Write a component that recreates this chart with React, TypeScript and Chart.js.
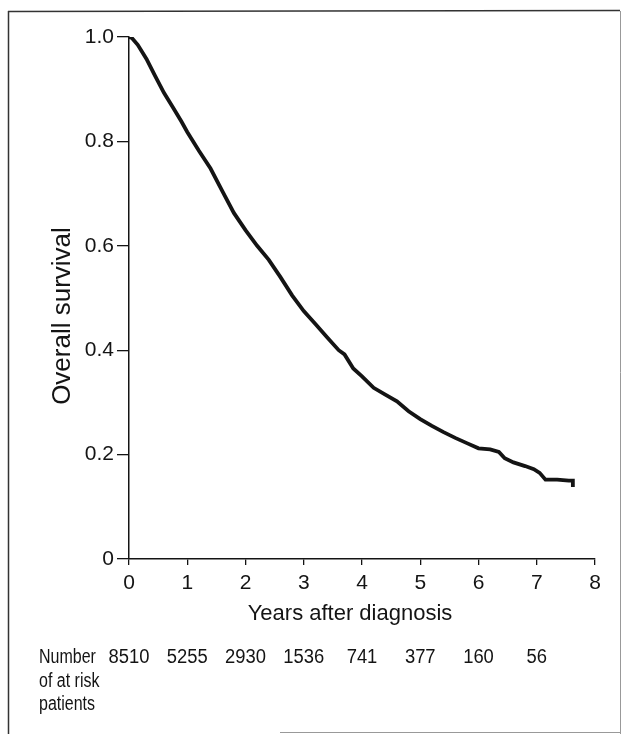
import React, { useEffect, useRef } from "react";
import { Chart, registerables } from "chart.js";

Chart.register(...registerables);

// Kaplan-Meier curve
const timeYears = [
  0, 0.05, 0.15, 0.3, 0.45, 0.6, 0.75, 0.9, 1.0, 1.2, 1.4, 1.6, 1.8, 2.0, 2.2,
  2.4, 2.6, 2.8, 3.0, 3.2, 3.4, 3.6, 3.7, 3.85, 4.0, 4.2, 4.4, 4.6, 4.8, 5.0,
  5.2, 5.4, 5.6, 5.8, 6.0, 6.2, 6.35, 6.45, 6.6, 6.8, 6.95, 7.05, 7.15, 7.35,
  7.55, 7.62, 7.62,
];
const survival = [
  1.0, 0.998, 0.985, 0.958, 0.925, 0.893, 0.866, 0.838, 0.818, 0.782, 0.748,
  0.705, 0.663, 0.63, 0.6, 0.573, 0.54, 0.505, 0.475, 0.45, 0.425, 0.4, 0.392,
  0.365, 0.35, 0.328, 0.315, 0.302, 0.283, 0.268, 0.255, 0.243, 0.232, 0.222,
  0.212, 0.21, 0.205, 0.193, 0.185, 0.178, 0.172, 0.165, 0.152, 0.152, 0.15,
  0.15, 0.138,
];

const xTickValues = [0, 1, 2, 3, 4, 5, 6, 7, 8];
const yTickValues = [0, 0.2, 0.4, 0.6, 0.8, 1.0];
const atRiskYears = [0, 1, 2, 3, 4, 5, 6, 7];
const atRiskCounts = [8510, 5255, 2930, 1536, 741, 377, 160, 56];
const atRiskLabel = ["Number", "of at risk", "patients"];
const xTitle = "Years after diagnosis";
const yTitle = "Overall survival";

const FONT = "'Liberation Sans', Arial, Helvetica, sans-serif";
const INK = "#141414";

const decorPlugin = {
  id: "decor",
  afterDraw(chart: any) {
    const ctx = chart.ctx as CanvasRenderingContext2D;
    const xs = chart.scales.x;
    ctx.save();
    // page frame
    ctx.lineWidth = 1.5;
    ctx.strokeStyle = "#333";
    ctx.beginPath();
    ctx.moveTo(8.5, 11);
    ctx.lineTo(8.5, 734);
    ctx.moveTo(8, 11.5);
    ctx.lineTo(620, 10.5);
    ctx.stroke();
    ctx.strokeStyle = "#999";
    ctx.lineWidth = 1;
    ctx.beginPath();
    ctx.moveTo(620.5, 11);
    ctx.lineTo(620.5, 734);
    ctx.moveTo(280, 732.5);
    ctx.lineTo(621, 732.5);
    ctx.stroke();

    ctx.fillStyle = INK;
    // axis titles
    ctx.font = `22px ${FONT}`;
    ctx.textAlign = "center";
    ctx.textBaseline = "middle";
    ctx.fillText(xTitle, 350, 614);
    ctx.save();
    ctx.translate(63, 316);
    ctx.rotate(-Math.PI / 2);
    ctx.font = `26px ${FONT}`;
    ctx.fillText(yTitle, 0, 0);
    ctx.restore();

    // number at risk
    ctx.textBaseline = "alphabetic";
    ctx.textAlign = "left";
    ctx.font = `20px ${FONT}`;
    const baselines = [663, 687, 710];
    atRiskLabel.forEach((t, i) => {
      ctx.save();
      ctx.translate(39, baselines[i]);
      ctx.scale(0.8, 1);
      ctx.fillText(t, 0, 0);
      ctx.restore();
    });
    ctx.textAlign = "center";
    atRiskCounts.forEach((n, i) => {
      const x = xs.getPixelForValue(atRiskYears[i]);
      ctx.save();
      ctx.translate(x, 663);
      ctx.scale(0.92, 1);
      ctx.fillText(String(n), 0, 0);
      ctx.restore();
    });
    ctx.restore();
  },
};

export default function App() {
  const ref = useRef<HTMLCanvasElement | null>(null);
  useEffect(() => {
    if (!ref.current) return;
    const data = timeYears.map((t, i) => ({ x: t, y: survival[i] }));
    const chart = new Chart(ref.current, {
      type: "line",
      data: {
        datasets: [
          {
            label: "Overall survival",
            data,
            borderColor: INK,
            borderWidth: 3.8,
            pointRadius: 0,
            tension: 0,
            fill: false,
          },
        ],
      },
      options: {
        animation: false,
        responsive: false,
        devicePixelRatio: 1,
        layout: { padding: { left: 0, right: 26, top: 37, bottom: 0 } },
        plugins: {
          legend: { display: false },
          tooltip: { enabled: false },
          title: { display: false },
        },
        scales: {
          x: {
            type: "linear",
            min: 0,
            max: 8,
            afterBuildTicks(s: any) {
              s.ticks = xTickValues.map((v) => ({ value: v }));
            },
            afterFit(s: any) {
              s.height = 734 - 559;
              s.paddingLeft = 0;
              s.paddingRight = 0;
            },
            ticks: {
              color: INK,
              font: { family: FONT, size: 21 },
              padding: 6,
              maxRotation: 0,
              callback: (v: any) => String(v),
            },
            grid: {
              display: true,
              drawOnChartArea: false,
              drawTicks: true,
              tickLength: 6,
              color: INK,
              lineWidth: 1.3,
            },
            border: { display: true, color: INK, width: 1.5 },
          },
          y: {
            type: "linear",
            min: 0,
            max: 1,
            afterBuildTicks(s: any) {
              s.ticks = yTickValues.map((v) => ({ value: v }));
            },
            afterFit(s: any) {
              s.width = 129;
              s.paddingTop = 0;
              s.paddingBottom = 0;
            },
            ticks: {
              color: INK,
              font: { family: FONT, size: 21 },
              padding: 3,
              callback: (v: any) => (Number(v) === 0 ? "0" : Number(v).toFixed(1)),
            },
            grid: {
              display: true,
              drawOnChartArea: false,
              drawTicks: true,
              tickLength: 12,
              color: INK,
              lineWidth: 1.3,
            },
            border: { display: true, color: INK, width: 1.5 },
          },
        },
      },
      plugins: [decorPlugin],
    });
    return () => chart.destroy();
  }, []);
  return (
    <div style={{ position: "absolute", left: 0, top: 0, width: 621, height: 734, background: "#fff" }}>
      <canvas ref={ref} width={621} height={734} style={{ display: "block" }} />
    </div>
  );
}
